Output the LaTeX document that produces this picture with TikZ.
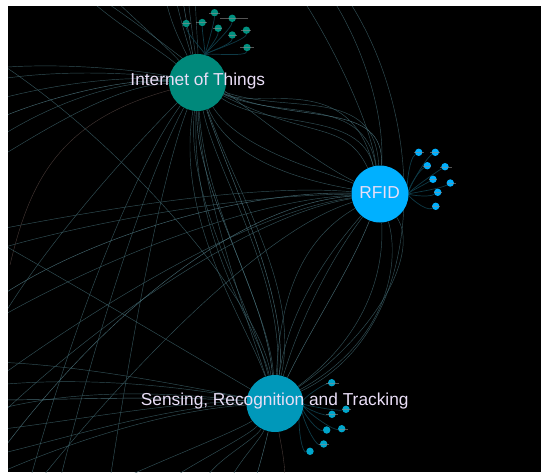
\documentclass[tikz,border=0pt]{standalone}
\usepackage{fontspec}
\setmainfont{Liberation Sans}
\definecolor{iotc}{RGB}{0,137,123}
\definecolor{iotm}{RGB}{0,145,128}
\definecolor{rfidc}{RGB}{0,176,255}
\definecolor{sensc}{RGB}{0,152,186}
\definecolor{sensm}{RGB}{0,166,204}
\definecolor{labc}{RGB}{234,222,247}
\definecolor{edgec}{RGB}{62,100,108}
\definecolor{edgeb}{RGB}{85,130,140}
\definecolor{edgep}{RGB}{100,80,75}
\definecolor{spoke}{RGB}{14,58,70}
\definecolor{stubc}{RGB}{140,140,140}
\pgfdeclarelayer{edges}
\pgfsetlayers{edges,main}
\begin{document}
\begin{tikzpicture}[x=1pt,y=-1pt,
  hub/.style={circle,inner sep=0pt,minimum size=57pt},
  small/.style={circle,inner sep=0pt,minimum size=7.4pt},
  lab/.style={text=labc,font=\fontsize{17.3}{20}\selectfont,inner sep=0pt},
  e/.style={draw=edgec,line width=0.45pt,opacity=0.8},
  eb/.style={draw=edgeb,line width=0.45pt,opacity=0.8},
  ep/.style={draw=edgep,line width=0.4pt,opacity=0.7},
  sp/.style={draw=spoke,line width=0.7pt},
  st/.style={draw=stubc,line width=0.3pt,opacity=0.6}]
\useasboundingbox (0,0) rectangle (541,472);

% hubs
\node[hub,fill=iotc] (iot) at (197.5,82.5) {};
\node[hub,fill=rfidc] (rfid) at (380,194) {};
\node[hub,fill=sensc] (sens) at (275,403.5) {};

% small nodes
\foreach \n/\x/\y in {i1/214.5/12.7,i2/232.2/18.3,i3/186.2/23.5,i4/202.2/22.5,i5/218.2/28.2,i6/246.4/30.2,i7/232.2/35,i8/247/47.5}
  \node[small,fill=iotm] (\n) at (\x,\y) {};
\foreach \n/\x/\y in {r1/418.7/152.3,r2/435.3/152.3,r3/427.3/165.7,r4/445/166.7,r5/433/179.3,r6/450.3/183,r7/437.7/192.3,r8/435.7/206.3}
  \node[small,fill=rfidc] (\n) at (\x,\y) {};
\foreach \n/\x/\y in {s1/331.7/382.7,s2/346/409.3,s3/332/414.3,s4/326.7/430,s5/341.7/428.7,s6/323.7/444,s7/310/451.3}
  \node[small,fill=sensm] (\n) at (\x,\y) {};

% label stubs
\foreach \n/\a/\b in {i1/5.5/5.5,i2/12/16,i3/4.5/4.5,i4/6.5/5,i5/5/4,i6/5/5,i7/4/5,i8/7/7,
  r1/5/5,r2/5/5,r3/4/4,r4/5/7,r5/4/4,r6/3/6,r7/4/4,r8/4/4,
  s1/6/7,s2/4/5,s3/6/6,s5/3/6,s6/5/5}
  \draw[st] ([xshift=-\a pt]\n.center) -- ([xshift=\b pt]\n.center);

% labels
\node[lab] (iotlab) at (197.8,81.5) {Internet of Things};
\node[lab] (rfidlab) at (379.6,192.5) {RFID};
\node[lab] (senslab) at (274.7,401) {Sensing, Recognition and Tracking};

% off-frame ends
\foreach \n/\x/\y in {la1/-5/68,la2/-5/80,la3/-5/100,la4/-5/120,la5/-5/140,la6/-5/160,
  lb1/30/480,lb2/60/480,lb3/-5/330,lb4/110/480,lb5/10/265,
  t1/175/-5,t2/182/-5,t3/188/-5,t4/165/-5,t5/85/-5,t6/110/-5,t7/195/-5,
  t8/300/-5,t9/330/-5,t10/95/-5,t11/345/-5,
  lr1/-5/320,lr2/-5/300,lr3/-5/380,lr4/-5/420,lr5/-5/460,lr6/-5/250,lr7/-5/230,br1/40/480,
  ls1/-5/362,ls2/-5/400,ls3/-5/430,ls4/-5/455,ls5/-5/385,ls6/-5/475,ls7/-5/410,ls8/-5/60,ls9/-5/240,
  b1/230/480,b2/205/480,b3/255/480,b4/170/480,b5/120/480,b6/285/480}
  \coordinate (\n) at (\x,\y);

\begin{pgfonlayer}{edges}
\fill[white] (0,0) rectangle (541,472);
\fill[black] (8,6) rectangle (541,472);
\begin{scope}
\clip (8,6) rectangle (541,472);
% IoT - RFID
\draw[e] (iot) .. controls (280,120) and (365,95) .. (rfid);
\draw[e] (iot) .. controls (290,115) and (375,85) .. (rfid);
\draw[e] (iot) .. controls (270,130) and (360,110) .. (rfid);
\draw[eb] (iot) .. controls (300,125) and (385,100) .. (rfid);
\draw[e] (iot) .. controls (260,110) and (350,70) .. (rfid);
\draw[e] (iot) .. controls (310,140) and (345,120) .. (rfid);
\draw[e] (iot) .. controls (230,160) and (300,180) .. (rfid);
\draw[e] (iot) .. controls (240,150) and (320,170) .. (rfid);
% IoT - Sensing
\draw[e] (iot) .. controls (185,200) and (250,300) .. (sens);
\draw[eb] (iot) .. controls (195,190) and (265,290) .. (sens);
\draw[e] (iot) .. controls (205,210) and (270,310) .. (sens);
\draw[e] (iot) .. controls (175,220) and (245,320) .. (sens);
\draw[e] (iot) .. controls (215,170) and (285,280) .. (sens);
\draw[eb] (iot) .. controls (230,180) and (290,300) .. (sens);
\draw[e] (iot) .. controls (190,240) and (260,330) .. (sens);
\draw[e] (iot) .. controls (240,200) and (300,290) .. (sens);
\draw[e] (iot) .. controls (200,180) and (240,300) .. (sens);
% RFID - Sensing
\draw[e] (rfid) .. controls (330,260) and (300,320) .. (sens);
\draw[eb] (rfid) .. controls (350,270) and (310,330) .. (sens);
\draw[e] (rfid) .. controls (340,240) and (290,300) .. (sens);
\draw[e] (rfid) .. controls (400,260) and (390,340) .. (sens);
\draw[e] (rfid) .. controls (420,250) and (380,330) .. (sens);
\draw[e] (rfid) .. controls (385,280) and (360,340) .. (sens);
\draw[e] (rfid) .. controls (300,240) and (280,300) .. (sens);
% RFID - left
\draw[e] (rfid) .. controls (250,200) and (100,260) .. (lr1);
\draw[eb] (rfid) .. controls (240,190) and (80,240) .. (lr2);
\draw[e] (rfid) .. controls (260,210) and (120,290) .. (lr3);
\draw[e] (rfid) .. controls (250,215) and (100,320) .. (lr4);
\draw[eb] (rfid) .. controls (230,205) and (90,330) .. (lr5);
\draw[e] (rfid) .. controls (220,195) and (60,230) .. (lr6);
\draw[e] (rfid) .. controls (270,185) and (150,200) .. (lr7);
\draw[e] (rfid) .. controls (260,230) and (120,380) .. (br1);
% IoT - left
\draw[e] (iot) .. controls (120,75) and (50,85) .. (la3);
\draw[eb] (iot) .. controls (120,78) and (40,100) .. (la4);
\draw[e] (iot) .. controls (110,80) and (40,110) .. (la5);
\draw[e] (iot) .. controls (130,72) and (50,70) .. (la2);
\draw[e] (iot) .. controls (120,85) and (60,120) .. (la6);
\draw[e] (iot) .. controls (140,70) and (60,62) .. (la1);
% IoT - bottom left
\draw[e] (iot) .. controls (140,160) and (80,300) .. (lb1);
\draw[e] (iot) .. controls (150,170) and (100,320) .. (lb2);
\draw[e] (iot) .. controls (130,150) and (40,250) .. (lb3);
\draw[e] (iot) .. controls (160,180) and (130,350) .. (lb4);
\draw[ep] (iot) .. controls (60,120) and (30,180) .. (lb5);
% IoT - top
\draw[e] (iot) .. controls (190,50) and (180,20) .. (t1);
\draw[eb] (iot) .. controls (192,50) and (186,20) .. (t2);
\draw[e] (iot) .. controls (195,50) and (190,20) .. (t3);
\draw[e] (iot) .. controls (185,50) and (170,25) .. (t4);
\draw[e] (iot) .. controls (160,50) and (110,20) .. (t5);
\draw[e] (iot) .. controls (170,50) and (130,15) .. (t6);
\draw[e] (iot) .. controls (198,50) and (196,20) .. (t7);
% top - RFID
\draw[e] (rfid) .. controls (370,120) and (330,40) .. (t8);
\draw[e] (rfid) .. controls (385,110) and (360,40) .. (t9);
\draw[e] (rfid) .. controls (290,150) and (180,50) .. (t10);
\draw[e] (sens) .. controls (430,330) and (430,120) .. (t11);
% Sensing - left
\draw[e] (sens) .. controls (180,385) and (80,365) .. (ls1);
\draw[eb] (sens) .. controls (170,395) and (60,400) .. (ls2);
\draw[e] (sens) .. controls (180,400) and (80,420) .. (ls3);
\draw[e] (sens) .. controls (170,405) and (60,440) .. (ls4);
\draw[e] (sens) .. controls (200,390) and (100,375) .. (ls5);
\draw[e] (sens) .. controls (160,410) and (50,450) .. (ls6);
\draw[e] (sens) .. controls (190,395) and (90,385) .. (ls7);
\draw[e] (sens) .. controls (260,300) and (120,140) .. (ls8);
\draw[e] (sens) .. controls (150,330) and (100,300) .. (ls9);
% Sensing - bottom
\draw[e] (sens) .. controls (260,440) and (240,460) .. (b1);
\draw[e] (sens) .. controls (255,440) and (215,460) .. (b2);
\draw[eb] (sens) .. controls (265,445) and (260,465) .. (b3);
\draw[e] (sens) .. controls (250,435) and (190,465) .. (b4);
\draw[e] (sens) .. controls (240,430) and (150,465) .. (b5);
\draw[ep] (sens) .. controls (280,440) and (285,460) .. (b6);
% spokes
\foreach \n in {i1,i2,i3,i4,i5,i6,i7,i8}
  \draw[sp] (iot) .. controls +(8,-30) and +(0,10) .. (\n);
\foreach \n in {r1,r2,r3,r4,r5,r6,r7,r8}
  \draw[sp] (rfid) .. controls +(25,0) and +(-10,6) .. (\n);
\foreach \n in {s1,s2,s3,s4,s5,s6,s7}
  \draw[sp] (sens) .. controls +(20,0) and +(-10,2) .. (\n);
\end{scope}
\end{pgfonlayer}
\end{tikzpicture}
\end{document}
